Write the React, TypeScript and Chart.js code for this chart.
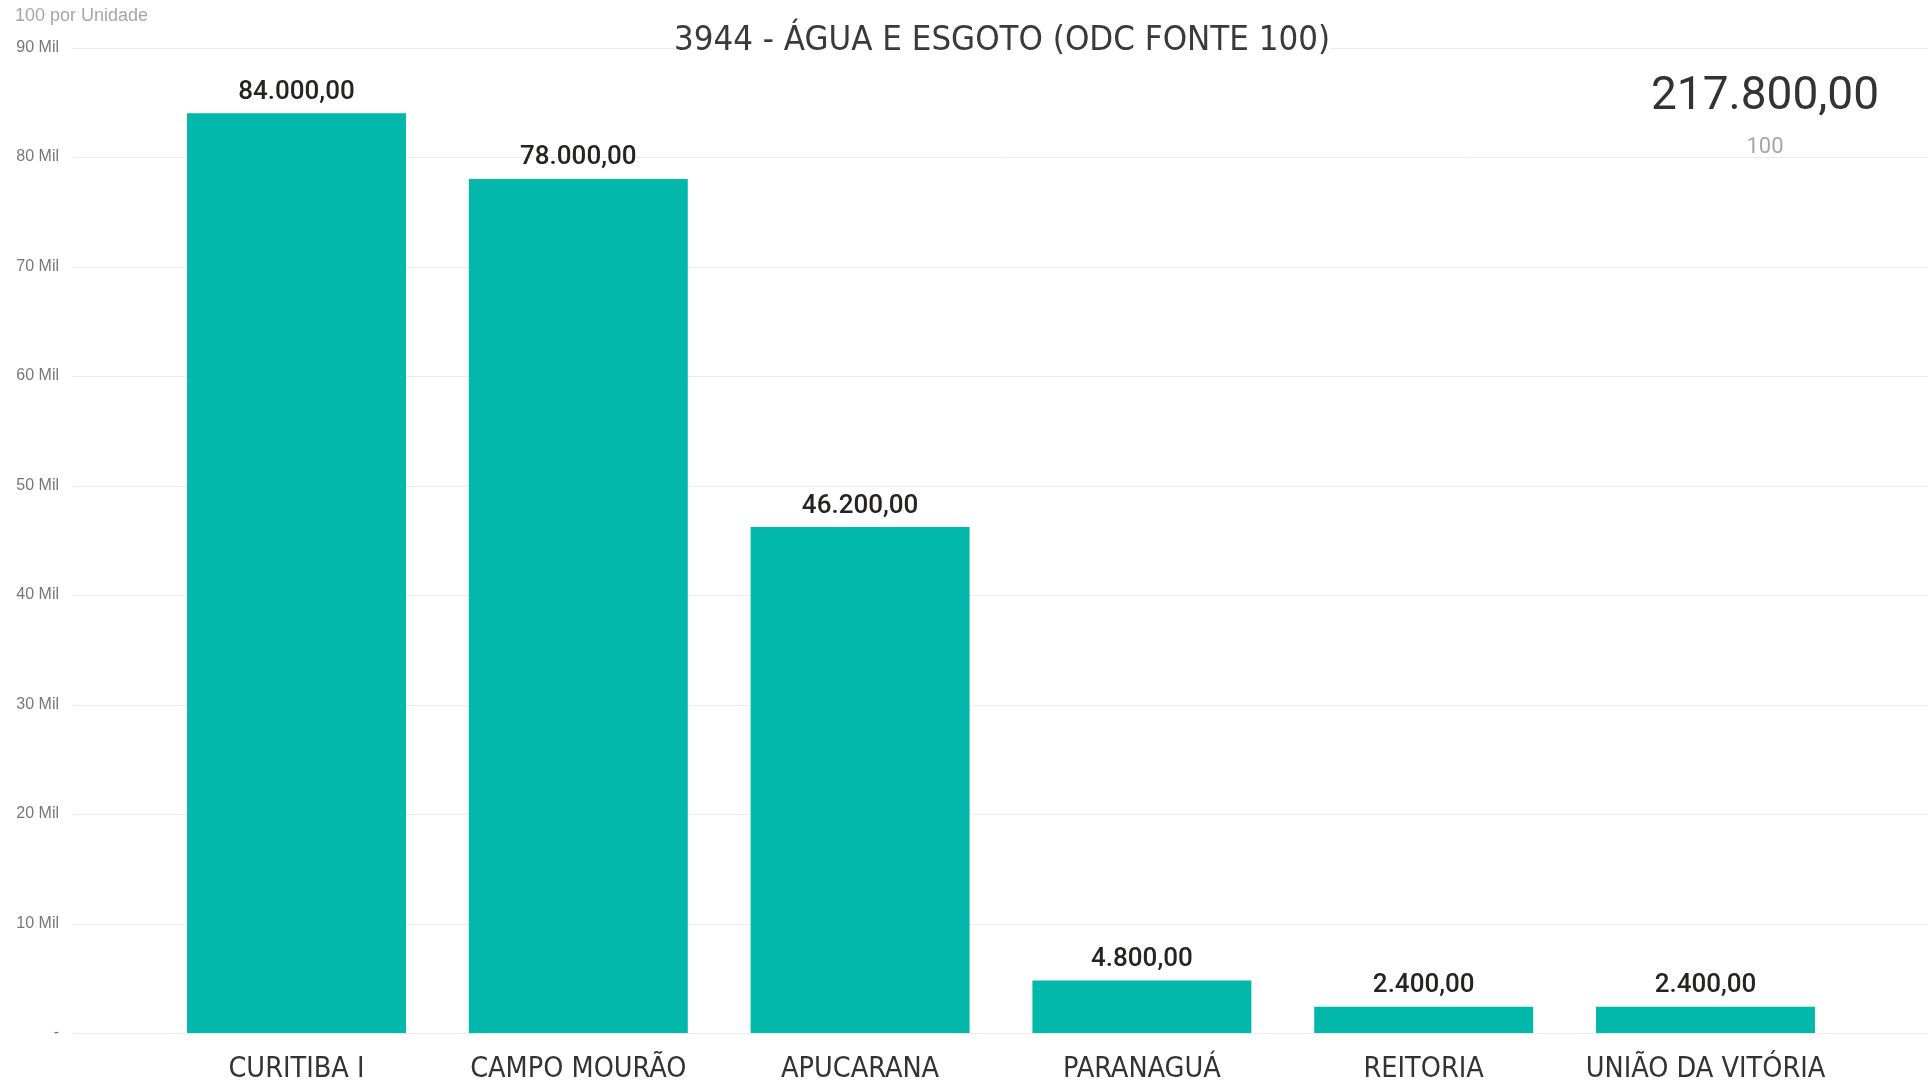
import React, { useEffect, useRef } from "react";
import { Chart, registerables } from "chart.js";

Chart.register(...registerables);

const categories = ["CURITIBA I", "CAMPO MOURÃO", "APUCARANA", "PARANAGUÁ", "REITORIA", "UNIÃO DA VITÓRIA"];
const values = [84000, 78000, 46200, 4800, 2400, 2400];
const yTicks = [0, 10000, 20000, 30000, 40000, 50000, 60000, 70000, 80000, 90000];
const yTickLabels = ["-", "10 Mil", "20 Mil", "30 Mil", "40 Mil", "50 Mil", "60 Mil", "70 Mil", "80 Mil", "90 Mil"];
const chartTitle = "3944 - ÁGUA E ESGOTO (ODC FONTE 100)";
const yAxisTitle = "100 por Unidade";
const totalValue = "217.800,00";
const totalLabel = "100";

const BAR_COLOR = "#01B8AA";
const NARROW = "'Liberation Sans Narrow', 'DejaVu Sans Condensed', 'Arial Narrow', sans-serif";

function formatBR(v: number): string {
  const int = Math.floor(v).toString().replace(/\B(?=(\d{3})+(?!\d))/g, ".");
  return int + ",00";
}

const overlayPlugin = {
  id: "overlay",
  beforeDraw(chart: any) {
    const { ctx, width } = chart;
    const y = chart.scales.y;
    ctx.save();
    ctx.fillStyle = "#ffffff";
    ctx.fillRect(0, 0, chart.width, chart.height);
    // gridlines
    ctx.strokeStyle = "#ebebeb";
    ctx.lineWidth = 1;
    yTicks.forEach((t) => {
      const py = Math.round(y.getPixelForValue(t)) + 0.5;
      ctx.beginPath();
      ctx.moveTo(73, py);
      ctx.lineTo(width, py);
      ctx.stroke();
    });
    // tick labels
    ctx.fillStyle = "#777777";
    ctx.font = "16px 'Liberation Sans', sans-serif";
    ctx.textAlign = "right";
    ctx.textBaseline = "middle";
    yTicks.forEach((t, i) => {
      ctx.fillText(yTickLabels[i], 59, y.getPixelForValue(t));
    });
    // axis title
    ctx.fillStyle = "#a6a6a6";
    ctx.font = "18px 'Liberation Sans', sans-serif";
    ctx.textAlign = "left";
    ctx.fillText(yAxisTitle, 15, 16);
    ctx.restore();
  },
  afterDatasetsDraw(chart: any) {
    const { ctx } = chart;
    const x = chart.scales.x;
    const meta = chart.getDatasetMeta(0);
    ctx.save();
    // value labels
    ctx.fillStyle = "#252423";
    ctx.font = "500 26px Roboto, sans-serif";
    ctx.textAlign = "center";
    ctx.textBaseline = "alphabetic";
    meta.data.forEach((bar: any, i: number) => {
      ctx.fillText(formatBR(values[i]), bar.x, bar.y - 14.5);
    });
    // category labels
    ctx.fillStyle = "#333333";
    ctx.font = "28.5px " + NARROW;
    categories.forEach((c, i) => {
      ctx.fillText(c, x.getPixelForValue(i), 1077);
    });
    // title
    ctx.font = "34.5px " + NARROW;
    const tw = ctx.measureText(chartTitle).width;
    ctx.fillStyle = "#ffffff";
    ctx.fillRect(1002 - tw / 2, 16, tw, 40);
    ctx.fillStyle = "#3a3a3a";
    ctx.fillText(chartTitle, 1002, 50);
    // card
    ctx.fillStyle = "#333333";
    ctx.font = "46px Roboto, sans-serif";
    ctx.textBaseline = "middle";
    ctx.fillText(totalValue, 1765, 97);
    ctx.fillStyle = "#a6a6a6";
    ctx.font = "22px Roboto, sans-serif";
    ctx.fillText(totalLabel, 1765, 147);
    ctx.restore();
  },
};

export default function App() {
  const ref = useRef<HTMLCanvasElement | null>(null);
  useEffect(() => {
    document.body.style.margin = "0";
    document.body.style.overflow = "hidden";
    if (!ref.current) return;
    const chart = new Chart(ref.current, {
      type: "bar",
      data: {
        labels: categories,
        datasets: [
          {
            data: values,
            backgroundColor: BAR_COLOR,
            borderWidth: 0,
            barPercentage: 0.777,
            categoryPercentage: 1,
          },
        ],
      },
      options: {
        animation: false,
        responsive: false,
        devicePixelRatio: 1,
        layout: { padding: { left: 155.6, right: 81.6, top: 47.5, bottom: 48 } },
        plugins: { legend: { display: false }, tooltip: { enabled: false }, title: { display: false } },
        scales: {
          x: { display: false },
          y: { display: false, min: 0, max: 90000 },
        },
      },
      plugins: [overlayPlugin],
    });
    return () => chart.destroy();
  }, []);
  return (
    <div style={{ width: 1928, height: 1081 }}>
      <canvas ref={ref} width={1928} height={1081} style={{ display: "block" }} />
    </div>
  );
}
